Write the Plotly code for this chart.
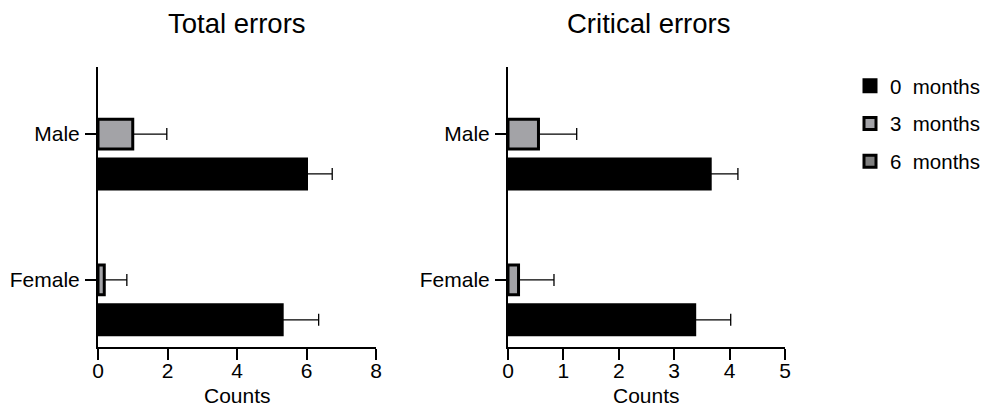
import plotly.graph_objects as go
from plotly.subplots import make_subplots

categories = ["Male", "Female"]
series_names = ["0\u00a0 months", "3\u00a0 months", "6\u00a0 months"]

total_0m = [6.0, 5.3]
total_0m_err = [0.74, 1.05]
total_3m = [1.0, 0.18]
total_3m_err = [0.98, 0.65]
total_6m = [None, None]

crit_0m = [3.65, 3.37]
crit_0m_err = [0.5, 0.65]
crit_3m = [0.55, 0.19]
crit_3m_err = [0.69, 0.64]
crit_6m = [None, None]

x_ticks_total = [0, 2, 4, 6, 8]
x_ticks_crit = [0, 1, 2, 3, 4, 5]
x_title = "Counts"

colors = ["#000000", "#a3a3a7", "#7f7f7f"]

W, H, OFF = 972, 401, 8  # page has 8px body margin; keep whole page inside window


def px_x(p):
    return (p - OFF) / W


def px_y(p):
    return 1 - (p - OFF) / H


fig = make_subplots(rows=1, cols=2)

panels = [
    (1, [total_0m, total_3m, total_6m], [total_0m_err, total_3m_err, None]),
    (2, [crit_0m, crit_3m, crit_6m], [crit_0m_err, crit_3m_err, None]),
]
for col, vals, errs in panels:
    for i, name in enumerate(series_names):
        err = errs[i]
        fig.add_trace(
            go.Bar(
                y=categories, x=vals[i], name=name, orientation="h",
                marker=dict(color=colors[i], line=dict(color="black", width=3)),
                error_x=dict(type="data", symmetric=False, array=err,
                             arrayminus=[0] * len(categories),
                             color="black", thickness=1.3, width=6) if err else None,
                showlegend=(col == 1), legendgroup=name,
            ),
            row=1, col=col,
        )

font = "Liberation Sans, Arial, sans-serif"
axis_common = dict(showline=True, linecolor="black", linewidth=2, ticks="outside",
                   ticklen=11, tickwidth=2, tickcolor="black", showgrid=False,
                   zeroline=False, automargin=False,
                   tickfont=dict(size=21, color="black", family=font))

fig.update_xaxes(**axis_common, ticklabelstandoff=-7)
fig.update_yaxes(**axis_common, ticklabelstandoff=1)

ydom = [px_y(347), px_y(67)]

title_font = dict(size=27.5, family=font, color="black")
xtitle_font = dict(size=21, family=font, color="black")

fig.update_layout(
    width=W, height=H,
    margin=dict(l=0, r=0, t=0, b=0, autoexpand=False),
    paper_bgcolor="white", plot_bgcolor="white",
    barmode="group", bargap=0.18, bargroupgap=0.25,
    font=dict(family=font, color="black"),
    xaxis=dict(domain=[px_x(98), px_x(376)], range=[0, 8], tickvals=x_ticks_total),
    xaxis2=dict(domain=[px_x(508), px_x(785)], range=[0, 5], tickvals=x_ticks_crit),
    yaxis=dict(domain=ydom, range=[-0.46, 1.46],
               categoryorder="array", categoryarray=["Female", "Male"]),
    yaxis2=dict(domain=ydom, range=[-0.46, 1.46],
                categoryorder="array", categoryarray=["Female", "Male"]),
    legend=dict(x=px_x(850), y=px_y(66), xanchor="left", yanchor="top",
                font=dict(size=20.5, color="black", family=font),
                tracegroupgap=8, traceorder="grouped"),
    annotations=[
        dict(text="Total errors", x=px_x(237), y=px_y(24), xref="paper", yref="paper",
             showarrow=False, font=title_font, xanchor="center", yanchor="middle"),
        dict(text="Critical errors", x=px_x(648), y=px_y(24), xref="paper", yref="paper",
             showarrow=False, font=title_font, xanchor="center", yanchor="middle"),
        dict(text=x_title, x=0.5, y=px_y(409), xref="x domain", yref="paper",
             showarrow=False, font=xtitle_font, xanchor="center", yanchor="bottom"),
        dict(text=x_title, x=0.5, y=px_y(409), xref="x2 domain", yref="paper",
             showarrow=False, font=xtitle_font, xanchor="center", yanchor="bottom"),
    ],
)

fig.write_html("out.html")
